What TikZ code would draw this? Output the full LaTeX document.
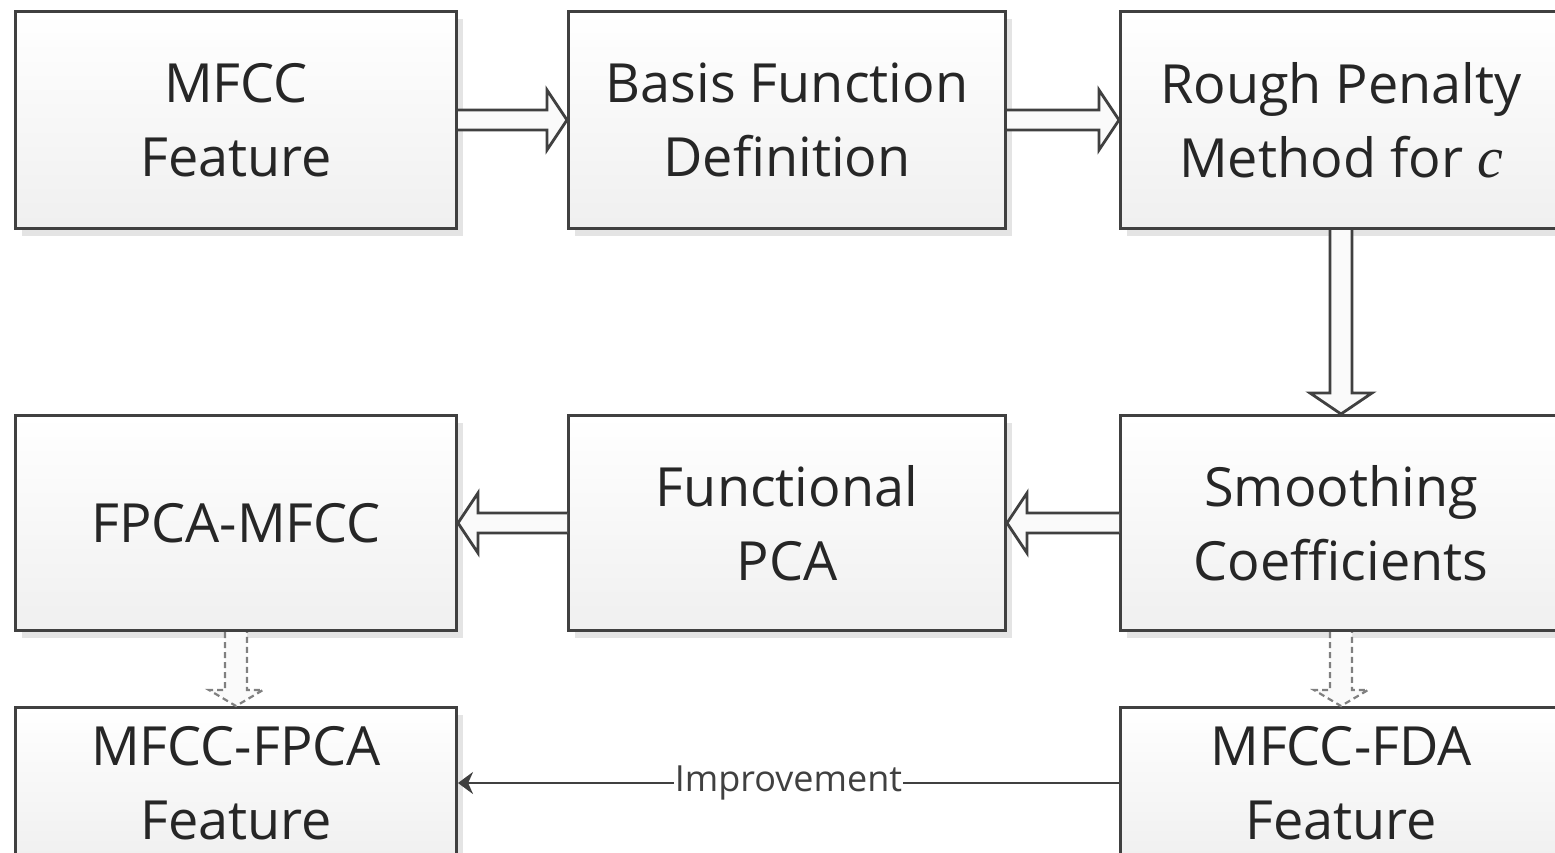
\documentclass[tikz,border=0pt]{standalone}
\usepackage{fontspec}
\setmainfont{Open Sans}
\newfontfamily\timesit{Liberation Serif}
\usetikzlibrary{calc,shadows,arrows.meta}
\definecolor{edge}{HTML}{404040}
\definecolor{shadowc}{HTML}{E4E4E4}
\definecolor{txt}{HTML}{262626}
\tikzset{
  box/.style={draw=edge, line width=3pt, top color=white, bottom color=black!6,
    minimum width=441pt, minimum height=217pt, align=center, inner sep=0pt,
    font=\fontsize{54}{74}\selectfont, text=txt,
    drop shadow={shadow xshift=6pt, shadow yshift=-7pt, fill=shadowc, opacity=1}},
  harrow/.style={draw=edge, line width=2.8pt, fill=black!2, line join=miter},
  darrow/.style={draw=black!50, dash pattern=on 6pt off 4pt, line width=2.2pt, fill=black!2},
  improve/.style={draw=edge, line width=2.5pt, -{Stealth[length=15pt,width=22pt]}},
  lbl/.style={fill=white, inner sep=1pt, font=\fontsize{36}{40}\selectfont, text=edge},
}
\begin{document}
\begin{tikzpicture}[x=1pt,y=-1pt]
\useasboundingbox (0,0) rectangle (1555,852);
\clip (0,0) rectangle (1555,852);
\fill[white] (0,0) rectangle (1555,852);

\node[box] (b1) at (236,120) {MFCC\\Feature};
\node[box, minimum width=437pt] (b2) at (787,120) {Basis Function\\Definition};
\node[box] (b3) at (1341,120) {Rough Penalty\\Method for {\timesit\itshape\fontsize{58}{74}\selectfont c}};

\node[box, minimum height=215pt] (b4) at (236,523) {FPCA-MFCC};
\node[box, minimum height=215pt, minimum width=437pt] (b5) at (787,523) {Functional\\PCA};
\node[box, minimum height=215pt] (b6) at (1341,523) {Smoothing\\Coefficients};

\node[box, minimum height=151pt] (b7) at (236,783) {MFCC-FPCA\\Feature};
\node[box, minimum height=151pt] (b8) at (1341,783) {MFCC-FDA\\Feature};

% block arrows
\draw[harrow] ($(b1.east)+(0,-10)$) -- ($(b2.west)+(-20,-10)$) -- ++(0,-20) -- (b2.west)
  -- ++(-20,30) -- ++(0,-20) -- ($(b1.east)+(0,10)$);
\draw[harrow] ($(b2.east)+(0,-10)$) -- ($(b3.west)+(-20,-10)$) -- ++(0,-20) -- (b3.west)
  -- ++(-20,30) -- ++(0,-20) -- ($(b2.east)+(0,10)$);
\draw[harrow] ($(b3.south)+(-11,0)$) -- ($(b6.north)+(-11,-21)$) -- ++(-20,0) -- (b6.north)
  -- ++(31,-21) -- ++(-20,0) -- ($(b3.south)+(11,0)$);
\draw[harrow] ($(b6.west)+(0,-10)$) -- ($(b5.east)+(20,-10)$) -- ++(0,-20) -- (b5.east)
  -- ++(20,30) -- ++(0,-20) -- ($(b6.west)+(0,10)$);
\draw[harrow] ($(b5.west)+(0,-10)$) -- ($(b4.east)+(20,-10)$) -- ++(0,-20) -- (b4.east)
  -- ++(20,30) -- ++(0,-20) -- ($(b5.west)+(0,10)$);

% dashed arrows
\draw[darrow] ($(b4.south)+(-11,0)$) -- ($(b7.north)+(-11,-16)$) -- ++(-16,0) -- (b7.north)
  -- ++(27,-16) -- ++(-16,0) -- ($(b4.south)+(11,0)$);
\draw[darrow] ($(b6.south)+(-11,0)$) -- ($(b8.north)+(-11,-16)$) -- ++(-16,0) -- (b8.north)
  -- ++(27,-16) -- ++(-16,0) -- ($(b6.south)+(11,0)$);

% improvement
\draw[improve] (b8.west) -- node[lbl] {Improvement} (b7.east);
\end{tikzpicture}
\end{document}
